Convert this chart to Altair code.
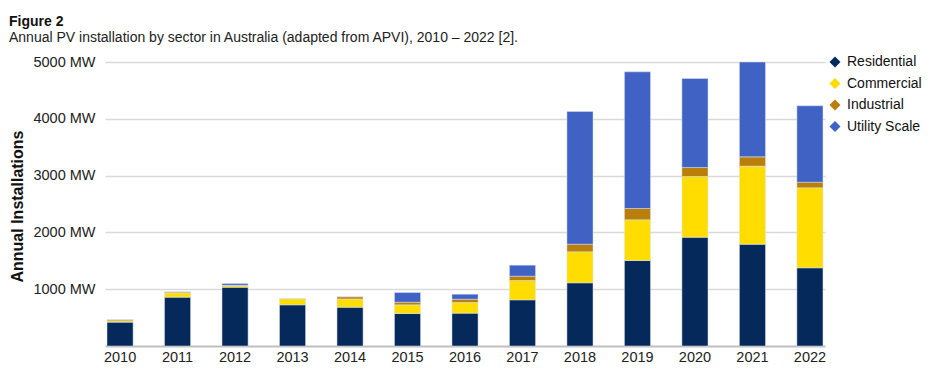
import altair as alt
import pandas as pd

years = [str(y) for y in range(2010, 2023)]
sectors = ["Residential", "Commercial", "Industrial", "Utility Scale"]
residential = [420, 860, 1035, 725, 683, 572, 578, 813, 1113, 1505, 1915, 1792, 1377]
commercial = [25, 75, 35, 110, 145, 153, 188, 340, 545, 717, 1069, 1374, 1408]
industrial = [22, 18, 0, 0, 40, 46, 58, 76, 134, 199, 159, 164, 99]
utility = [0, 0, 30, 0, 0, 171, 88, 194, 2337, 2406, 1567, 1670, 1345]
colors = ["#06295C", "#FFDD00", "#BA7F0A", "#3F62C4"]

rows = []
for i, y in enumerate(years):
    for k, (s, vals) in enumerate(zip(sectors, [residential, commercial, industrial, utility])):
        rows.append({"year": y, "sector": s, "value": vals[i], "idx": k})
df = pd.DataFrame(rows)

FONT = "Liberation Sans"

chart = alt.Chart(df).mark_bar(stroke="#dfe4ee", strokeWidth=0.5).encode(
    x=alt.X("year:N", sort=years,
            scale=alt.Scale(paddingInner=0.546, paddingOuter=0.035),
            axis=alt.Axis(title=None, labelAngle=0, labelFontSize=14.5, labelColor="#222222",
                          labelFont=FONT, ticks=False, domainColor="#bfbfbf", domainWidth=2,
                          labelPadding=4)),
    y=alt.Y("value:Q", stack="zero",
            scale=alt.Scale(domain=[0, 5000], nice=False),
            axis=alt.Axis(title="Annual Installations", values=[1000, 2000, 3000, 4000, 5000],
                          labelExpr="datum.value + ' MW'", labelFontSize=14.5, labelFont=FONT,
                          labelColor="#222222", labelPadding=10, ticks=False, domain=False,
                          gridColor="#d9d9d9", gridWidth=1.5,
                          titleFont=FONT, titleFontSize=16, titleFontWeight="bold",
                          titleColor="#111111", titleX=-80, titleY=144)),
    color=alt.Color("sector:N", scale=alt.Scale(domain=sectors, range=colors),
                    legend=alt.Legend(title=None, orient="none", legendX=723, legendY=-7,
                                      symbolType="diamond", symbolSize=120, symbolStrokeWidth=0,
                                      labelFontSize=14, labelFont=FONT, labelColor="#111111",
                                      rowPadding=7.5, labelOffset=5)),
    order=alt.Order("idx:Q", sort="ascending"),
).properties(
    width=720, height=284,
    autosize=alt.AutoSizeParams(type="none"),
    padding={"left": 105, "top": 62, "right": 115, "bottom": 31},
    title=alt.TitleParams(
        "Figure 2",
        subtitle="Annual PV installation by sector in Australia (adapted from APVI), 2010 \u2013 2022 [2].",
        anchor="start", frame="group", dx=-96,
        font=FONT, fontSize=14, fontWeight="bold", color="#111111",
        subtitleFont=FONT, subtitleFontSize=14, subtitleColor="#222222", subtitlePadding=2,
        offset=9,
    ),
).configure_view(stroke=None)

chart.save("out.html", embed_options={"renderer": "svg", "actions": False})
